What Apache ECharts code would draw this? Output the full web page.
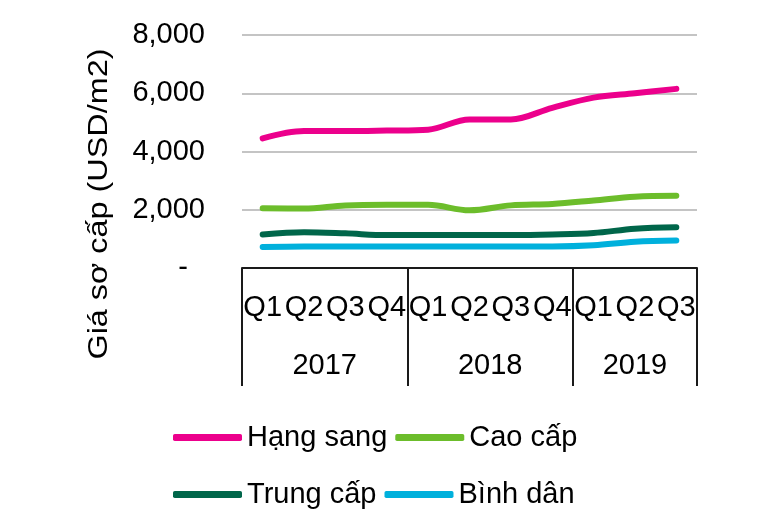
<!DOCTYPE html>
<html><head><meta charset="utf-8">
<script src="https://cdn.jsdelivr.net/npm/echarts@6/dist/echarts.min.js"></script>
<style>html,body{margin:0;padding:0;background:#fff}#c{width:779px;height:520px}</style>
</head><body><div id="c"></div>
<script>
const quarters = ['Q1','Q2','Q3','Q4','Q1','Q2','Q3','Q4','Q1','Q2','Q3'];
const years = ['2017','2018','2019'];
const yearCenters = [1.5, 5.5, 9];      // category-index positions of year labels
const groupStarts = [0, 4, 8];          // first quarter index of each year
const yTicks = [0, 2000, 4000, 6000, 8000];
const hangSang = [4450, 4700, 4700, 4720, 4750, 5100, 5100, 5500, 5850, 6000, 6150];
const caoCap   = [2050, 2040, 2150, 2170, 2170, 1980, 2150, 2200, 2320, 2450, 2480];
const trungCap = [1150, 1230, 1190, 1130, 1130, 1130, 1130, 1150, 1200, 1350, 1400];
const binhDan  = [720, 740, 740, 740, 740, 740, 740, 740, 780, 900, 940];
const seriesNames = ['Hạng sang', 'Cao cấp', 'Trung cấp', 'Bình dân'];
const colors = ['#EC008C', '#6CBD2B', '#00664A', '#00B0DC'];

const FONT = 'Liberation Sans, Arial, sans-serif';
const FS = 29;
const chart = echarts.init(document.getElementById('c'), null, {renderer: 'canvas'});
const data = [hangSang, caoCap, trungCap, binhDan];

const legendBase = {
  orient: 'horizontal', left: 168, icon: 'roundRect',
  itemWidth: 69, itemHeight: 7, itemGap: 8,
  textStyle: {fontSize: FS, fontFamily: FONT, color: '#000', width: 140}
};

chart.setOption({
  animation: false,
  textStyle: {fontFamily: FONT, color: '#000'},
  grid: {left: 242, right: 82, top: 35, bottom: 252, containLabel: false},
  xAxis: [{
    type: 'category', data: quarters, boundaryGap: true,
    axisLine: {show: true, lineStyle: {color: '#1a1a1a', width: 2}},
    axisTick: {show: true, length: 118, lineStyle: {color: '#1a1a1a', width: 2},
      interval: (i) => groupStarts.indexOf(i) >= 0},
    axisLabel: {interval: 0, margin: 25, fontSize: FS, color: '#000', fontFamily: FONT},
    splitLine: {show: false}
  }, {
    type: 'value', min: -0.5, max: 10.5, interval: 0.5, position: 'bottom',
    axisLine: {show: false}, axisTick: {show: false}, splitLine: {show: false},
    axisLabel: {margin: 83, fontSize: FS, color: '#000', fontFamily: FONT,
      showMinLabel: true, showMaxLabel: true,
      formatter: (v) => { const k = yearCenters.indexOf(v); return k >= 0 ? years[k] : ''; }}
  }],
  yAxis: {
    type: 'value', min: yTicks[0], max: yTicks[yTicks.length - 1], interval: 2000,
    axisLine: {show: false}, axisTick: {show: false},
    splitLine: {lineStyle: {color: '#c4c4c4', width: 2}},
    axisLabel: {margin: 37, fontSize: FS, color: '#000', fontFamily: FONT,
      formatter: (v) => v === 0 ? '{d|-}' : v.toLocaleString('en-US'),
      rich: {d: {fontSize: FS, fontFamily: FONT, color: '#000', padding: [0, 17, 0, 0]}}}
  },
  legend: [
    Object.assign({}, legendBase, {data: seriesNames.slice(0, 2), top: 418}),
    Object.assign({}, legendBase, {data: seriesNames.slice(2, 4), top: 475})
  ],
  graphic: [{
    type: 'text', x: 100, y: 204, rotation: Math.PI / 2, scaleX: 1.2, scaleY: 1,
    style: {text: 'Giá sơ cấp (USD/m2)', fontSize: 27, fontFamily: FONT, fill: '#000',
      textAlign: 'center', textVerticalAlign: 'middle'}
  }],
  series: seriesNames.map((n, i) => ({
    name: n, type: 'line', data: data[i], xAxisIndex: 0, smooth: 0.35,
    symbol: 'none', color: colors[i],
    lineStyle: {color: colors[i], width: 6, cap: 'round', join: 'round'}
  }))
});
</script></body></html>
